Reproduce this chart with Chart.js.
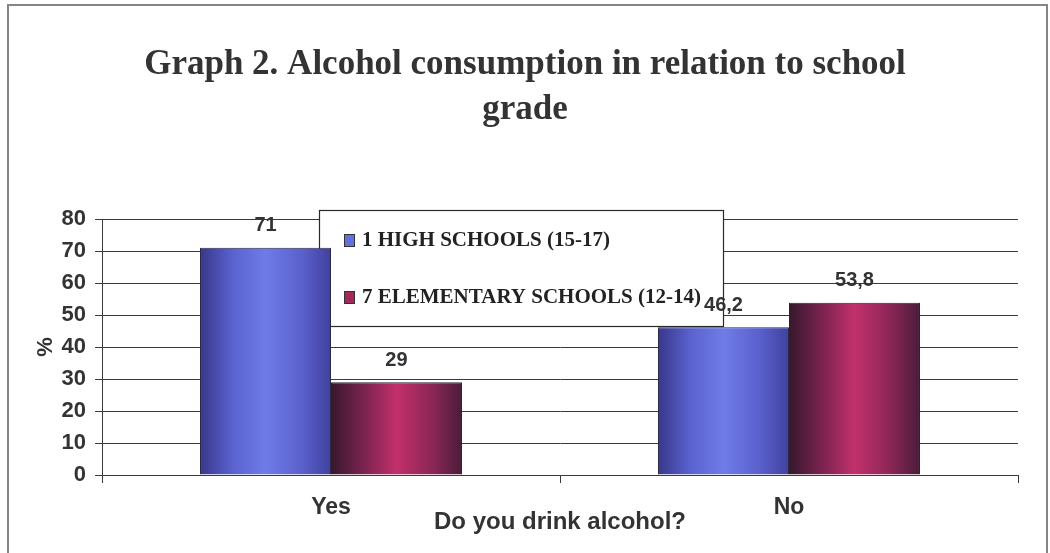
<!DOCTYPE html>
<html>
<head>
<meta charset="utf-8">
<script src="https://cdn.jsdelivr.net/npm/chart.js@4.4.1/dist/chart.umd.min.js"></script>
<style>
  html, body { margin: 0; padding: 0; background: #ffffff; }
  #wrap { position: relative; width: 1050px; height: 553px; }
</style>
</head>
<body>
<div id="wrap"><canvas id="c" width="1050" height="553"></canvas></div>
<script>
// ---- data ----
const categories = ['Yes', 'No'];
const seriesNames = ['1 HIGH SCHOOLS (15-17)', '7 ELEMENTARY SCHOOLS (12-14)'];
const highSchools = [71, 46.2];
const elementarySchools = [29, 53.8];
const yTicks = [0, 10, 20, 30, 40, 50, 60, 70, 80];
const titleLines = ['Graph 2. Alcohol consumption in relation to school', 'grade'];
const xTitle = 'Do you drink alcohol?';
const yTitle = '%';

// ---- style ----
const TEXT = '#333333';
const LINE = '#3a3a3a';
const SANS = "'Liberation Sans', Arial, sans-serif";
const SERIF = "'Liberation Serif', 'Times New Roman', serif";
const CAT_PCT = 0.572;
const blueStops = ['#39378a', '#5a62d0', '#6f7ce8', '#5a60cc', '#40409e'];
const redStops = ['#36182c', '#7a2350', '#c2306a', '#8a2656', '#4a1c3a'];

function barGradient(stops, dsIndex, nDatasets) {
  return (ctx) => {
    const chart = ctx.chart;
    const xs = chart.scales && chart.scales.x;
    if (!xs || ctx.type !== 'data' || !chart.chartArea) return stops[2];
    const center = xs.getPixelForValue(ctx.dataIndex);
    const catW = (xs.right - xs.left) / categories.length;
    const barW = catW * CAT_PCT / nDatasets;
    const left = center - (catW * CAT_PCT) / 2 + dsIndex * barW;
    const g = chart.ctx.createLinearGradient(left, 0, left + barW, 0);
    g.addColorStop(0, stops[0]);
    g.addColorStop(0.25, stops[1]);
    g.addColorStop(0.5, stops[2]);
    g.addColorStop(0.78, stops[3]);
    g.addColorStop(1, stops[4]);
    return g;
  };
}

const frame = {
  id: 'frame',
  beforeDraw(chart) {
    const c = chart.ctx;
    c.save();
    c.fillStyle = '#ffffff';
    c.fillRect(0, 0, chart.width, chart.height);
    c.strokeStyle = '#858585';
    c.lineWidth = 2;
    c.beginPath();
    c.moveTo(8, chart.height);
    c.lineTo(8, 5);
    c.lineTo(1047, 5);
    c.lineTo(1047, chart.height);
    c.stroke();
    c.restore();
  }
};

function legendBox(chart) {
  const a = chart.chartArea;
  return { x: a.left + 217, y: a.top - 9, w: 404, h: 116 };
}

const floatLegend = {
  id: 'floatLegend',
  beforeDatasetsDraw(chart) {
    const c = chart.ctx;
    const b = legendBox(chart);
    c.save();
    c.fillStyle = '#ffffff';
    c.fillRect(b.x, b.y, b.w, b.h);
    c.strokeStyle = '#2a2a2a';
    c.lineWidth = 1.2;
    c.strokeRect(b.x + 0.5, b.y + 0.5, b.w, b.h);
    const squares = ['#6470dc', '#a3285c'];
    chart.data.datasets.forEach((ds, i) => {
      const cy = b.y + 30 + i * 57;
      c.fillStyle = squares[i];
      c.fillRect(b.x + 25, cy - 6, 10, 12);
      c.strokeStyle = '#333';
      c.lineWidth = 1;
      c.strokeRect(b.x + 25.5, cy - 5.5, 10, 12);
      c.fillStyle = '#222';
      c.font = "bold 21px " + SERIF;
      c.textAlign = 'left';
      c.textBaseline = 'middle';
      c.fillText(ds.label, b.x + 43, cy + 1);
    });
    c.restore();
  }
};

const valueLabels = {
  id: 'valueLabels',
  afterDatasetsDraw(chart) {
    const c = chart.ctx;
    c.save();
    c.fillStyle = TEXT;
    c.font = "bold 20px " + SANS;
    c.textAlign = 'center';
    c.textBaseline = 'middle';
    chart.data.datasets.forEach((ds, i) => {
      const meta = chart.getDatasetMeta(i);
      meta.data.forEach((el, j) => {
        const v = ds.data[j];
        c.fillText(String(v).replace('.', ','), el.x, el.y - 22);
      });
    });
    c.restore();
  }
};

new Chart(document.getElementById('c'), {
  type: 'bar',
  data: {
    labels: categories,
    datasets: [
      {
        label: seriesNames[0],
        data: highSchools,
        backgroundColor: barGradient(blueStops, 0, 2),
        borderColor: '#2a2a44',
        borderWidth: 1,
        categoryPercentage: CAT_PCT,
        barPercentage: 1.0
      },
      {
        label: seriesNames[1],
        data: elementarySchools,
        backgroundColor: barGradient(redStops, 1, 2),
        borderColor: '#2a2030',
        borderWidth: 1,
        categoryPercentage: CAT_PCT,
        barPercentage: 1.0
      }
    ]
  },
  options: {
    responsive: false,
    animation: false,
    layout: { padding: { left: 0, right: 0, top: 0, bottom: 0 } },
    plugins: {
      legend: { display: false },
      tooltip: { enabled: false },
      title: {
        display: true,
        text: titleLines,
        color: TEXT,
        font: { family: SERIF, size: 35, weight: 'bold', lineHeight: 1.29 },
        padding: { top: 42, bottom: 86.7 }
      }
    },
    scales: {
      x: {
        offset: true,
        grid: {
          offset: true,
          drawOnChartArea: true,
          color: (ctx) => (ctx.index === 0 || ctx.index === categories.length) ? LINE : 'rgba(0,0,0,0)',
          tickColor: LINE,
          tickLength: 8,
          lineWidth: 1
        },
        border: { display: true, color: LINE, width: 1 },
        ticks: {
          color: TEXT,
          font: { family: SANS, size: 23, weight: 'bold' },
          padding: 11
        },
        title: {
          display: true,
          text: xTitle,
          color: TEXT,
          font: { family: SANS, size: 24, weight: 'bold', lineHeight: 1.2 },
          padding: { top: 0, bottom: 16 }
        },
        afterFit(s) { s.height = 78; }
      },
      y: {
        min: yTicks[0],
        max: yTicks[yTicks.length - 1],
        afterBuildTicks(s) { s.ticks = yTicks.map(v => ({ value: v })); },
        grid: {
          color: LINE,
          tickColor: LINE,
          tickLength: 7,
          lineWidth: 1
        },
        border: { display: true, color: LINE, width: 1 },
        ticks: {
          color: TEXT,
          font: { family: SANS, size: 22, weight: 'bold' },
          padding: 9
        },
        title: {
          display: true,
          text: yTitle,
          color: TEXT,
          font: { family: SANS, size: 22, weight: 'bold', lineHeight: 1.2 },
          padding: { top: 33, bottom: 0 }
        },
        afterFit(s) { s.width = 102; }
      },
      rightSpace: {
        type: 'linear',
        position: 'right',
        display: true,
        grid: { display: false, drawTicks: false },
        border: { display: false },
        ticks: { display: false },
        afterFit(s) { s.width = 32; }
      }
    }
  },
  plugins: [frame, floatLegend, valueLabels]
});
</script>
</body>
</html>
